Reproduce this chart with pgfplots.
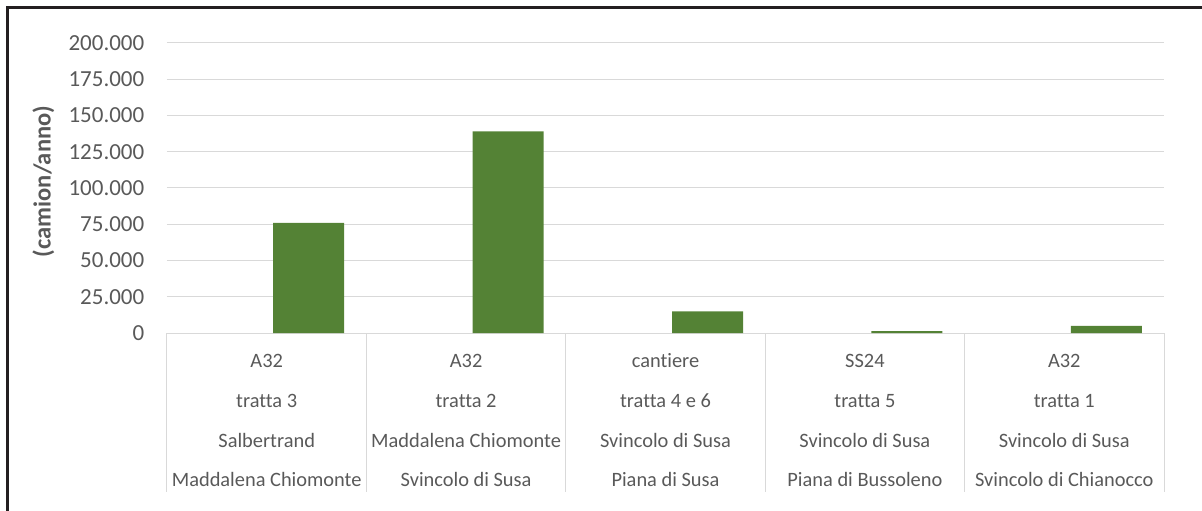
\documentclass[border=0pt]{standalone}
\usepackage{fontspec}
\setmainfont{Carlito}[Ligatures={NoCommon}]
\usepackage{pgfplots}
\pgfplotsset{compat=1.18}
\definecolor{barGreen}{RGB}{84,130,53}
\definecolor{txtGray}{RGB}{89,89,89}
\definecolor{gridGray}{RGB}{217,217,217}
\definecolor{frameCol}{RGB}{35,31,32}
\begin{document}
\begin{tikzpicture}
\path[use as bounding box] (0pt,0pt) rectangle (1202pt,511pt);
\begin{axis}[
  at={(167pt,178pt)}, anchor=south west,
  scale only axis, width=997pt, height=290pt,
  xmin=-0.5, xmax=4.5, ymin=0, ymax=200000,
  ytick={0,25000,50000,75000,100000,125000,150000,175000,200000},
  xtick={0,1,2,3,4},
  xticklabels={
    {A32\\tratta 3\\Salbertrand\\Maddalena Chiomonte},
    {A32\\tratta 2\\Maddalena Chiomonte\\Svincolo di Susa},
    {cantiere\\tratta 4 e 6\\Svincolo di Susa\\Piana di Susa},
    {SS24\\tratta 5\\Svincolo di Susa\\Piana di Bussoleno},
    {A32\\tratta 1\\Svincolo di Susa\\Svincolo di Chianocco}},
  scaled y ticks=false,
  /pgf/number format/.cd, fixed, precision=0, 1000 sep={.}, assume math mode=true,
  /pgfplots/.cd,
  ymajorgrids, grid style={gridGray, line width=1pt},
  axis line style={draw=none},
  major tick length=0pt,
  xtick pos=bottom, ytick pos=left,
  yticklabel style={font=\fontsize{23}{27}\selectfont, text=txtGray, anchor=east, inner sep=0pt, xshift=-22.5pt},
  xticklabel style={font=\fontsize{20.4}{39.7}\selectfont, text=txtGray, align=center, anchor=base, inner sep=0pt, yshift=-153.7pt},
  extra x ticks={-0.5,0.5,1.5,2.5,3.5,4.5},
  extra x tick labels={},
  extra x tick style={major tick length=158.5pt, tick align=outside, tick style={draw=gridGray, line width=1pt}, grid=none},
  ylabel={(camion/anno)},
  ylabel style={at={(rel axis cs:-0.1241,0.5217)}, anchor=center, font=\fontsize{24.5}{28}\selectfont\bfseries, text=txtGray},
  title={Anno 1 - Flussi di camion},
  title style={at={(rel axis cs:0.4463,1.1362)}, anchor=base, inner sep=0pt, font=\fontsize{25}{29}\selectfont\bfseries, text=txtGray!80!black},
  clip=false,
]
\addplot[ybar, bar width=71pt, bar shift=42pt, fill=barGreen, draw=none]
  coordinates {(0,76000) (1,139000) (2,15000) (3,1350) (4,4900)};
\end{axis}
\draw[line width=3pt, frameCol] (7.5pt,-2pt) -- (7.5pt,503.7pt) -- (1210pt,503.7pt);
\end{tikzpicture}
\end{document}
